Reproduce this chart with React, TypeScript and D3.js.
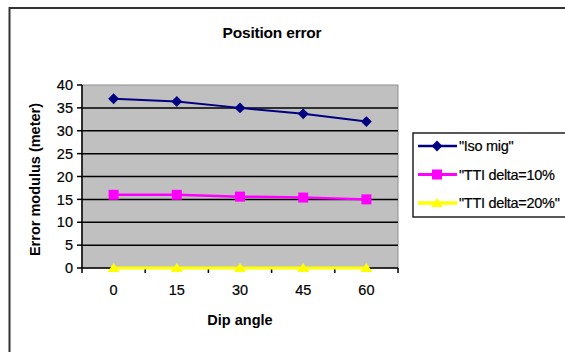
import React from "react"
import * as d3 from "d3"

const WIDTH = 565
const HEIGHT = 352
const PLOT = { left: 82, top: 85, right: 398, bottom: 268 }

const categories = ["0", "15", "30", "45", "60"]
const isoMig = [37, 36.4, 35, 33.7, 32]
const tti10 = [16, 16, 15.6, 15.4, 15]
const tti20 = [0, 0, 0, 0, 0]
const yTicks = [0, 5, 10, 15, 20, 25, 30, 35, 40]

const series = [
    { name: "\"Iso mig\"", values: isoMig, color: "#000080", width: 2, marker: "diamond" },
    { name: "\"TTI delta=10%", values: tti10, color: "#ff00ff", width: 2.5, marker: "square" },
    { name: "\"TTI delta=20%\"", values: tti20, color: "#ffff00", width: 3, marker: "triangle" },
]

const FONT = "'Liberation Sans', Arial, sans-serif"

const markerPath = (kind: string) => {
    if (kind === "diamond") return d3.symbol(d3.symbolDiamond2, 75)()
    if (kind === "square") return d3.symbol(d3.symbolSquare, 100)()
    return "M0,-5L6,4L-6,4Z"
}

const App: React.FC = () => {
    const x = d3
        .scaleBand<string>()
        .domain(categories)
        .range([PLOT.left, PLOT.right])
    const y = d3.scaleLinear().domain([0, 40]).range([PLOT.bottom, PLOT.top])
    const cx = (c: string) => x(c)! + x.bandwidth() / 2

    const line = d3
        .line<number>()
        .x((_, i) => cx(categories[i]))
        .y(d => y(d))

    // tick marks sit on the category boundaries
    const boundaries = categories.map(c => x(c)!).concat([PLOT.right])

    return (
        <svg
            width={WIDTH}
            height={HEIGHT}
            style={{ position: "absolute", left: 0, top: 0, background: "#fff" }}
            fontFamily={FONT}
        >
            {/* chart border */}
            <rect x={9.5} y={8} width={WIDTH + 20} height={HEIGHT + 20} fill="none" stroke="#333" strokeWidth={2} />

            <text x={272} y={38} textAnchor="middle" fontSize={15.5} fontWeight="bold" letterSpacing={-0.2}>
                Position error
            </text>

            {/* plot area */}
            <rect
                x={PLOT.left}
                y={PLOT.top}
                width={PLOT.right - PLOT.left}
                height={PLOT.bottom - PLOT.top}
                fill="#c0c0c0"
                stroke="#909090"
            />
            {yTicks
                .filter(t => t > 0 && t < 40)
                .map(t => (
                    <line key={t} x1={PLOT.left} x2={PLOT.right} y1={y(t)} y2={y(t)} stroke="#000" strokeWidth={1.5} />
                ))}

            {/* y axis */}
            <line x1={PLOT.left} x2={PLOT.left} y1={PLOT.top} y2={PLOT.bottom} stroke="#000" strokeWidth={1.5} />
            {yTicks.map(t => (
                <g key={t}>
                    <line x1={PLOT.left - 5} x2={PLOT.left} y1={y(t)} y2={y(t)} stroke="#000" strokeWidth={1.5} />
                    <text x={PLOT.left - 9} y={y(t)} dy="0.36em" textAnchor="end" fontSize={14.5} stroke="#000" strokeWidth={0.2}>
                        {t}
                    </text>
                </g>
            ))}
            <text
                transform={`translate(40,${(PLOT.top + PLOT.bottom) / 2 + 3}) rotate(-90)`}
                textAnchor="middle"
                fontSize={14.5}
                fontWeight="bold"
            >
                Error modulus (meter)
            </text>

            {/* x axis */}
            <line x1={PLOT.left} x2={PLOT.right} y1={PLOT.bottom} y2={PLOT.bottom} stroke="#000" strokeWidth={1.5} />
            {boundaries.map((b, i) => (
                <line key={i} x1={b} x2={b} y1={PLOT.bottom} y2={PLOT.bottom + 5} stroke="#000" strokeWidth={1.5} />
            ))}
            {categories.map(c => (
                <text key={c} x={cx(c)} y={295} textAnchor="middle" fontSize={14.5} stroke="#000" strokeWidth={0.2}>
                    {c}
                </text>
            ))}
            <text x={240} y={325} textAnchor="middle" fontSize={14.5} fontWeight="bold">
                Dip angle
            </text>

            {/* series */}
            {series.map(s => (
                <g key={s.name}>
                    <path d={line(s.values)!} fill="none" stroke={s.color} strokeWidth={s.width} />
                    {s.values.map((v, i) => (
                        <path
                            key={i}
                            transform={`translate(${cx(categories[i])},${y(v)})`}
                            d={markerPath(s.marker)!}
                            fill={s.color}
                        />
                    ))}
                </g>
            ))}

            {/* legend */}
            <rect x={413} y={133} width={WIDTH} height={84} fill="#fff" stroke="#222" strokeWidth={1.5} />
            {series.map((s, i) => {
                const ly = 146 + i * 28.5
                return (
                    <g key={s.name}>
                        <line x1={418} x2={457} y1={ly} y2={ly} stroke={s.color} strokeWidth={s.width + 0.5} />
                        <path transform={`translate(437,${ly})`} d={markerPath(s.marker)!} fill={s.color} />
                        <text x={459} y={ly} dy="0.36em" fontSize={14.5} letterSpacing={-0.3} stroke="#000" strokeWidth={0.2}>
                            {s.name}
                        </text>
                    </g>
                )
            })}
        </svg>
    )
}

export default App
